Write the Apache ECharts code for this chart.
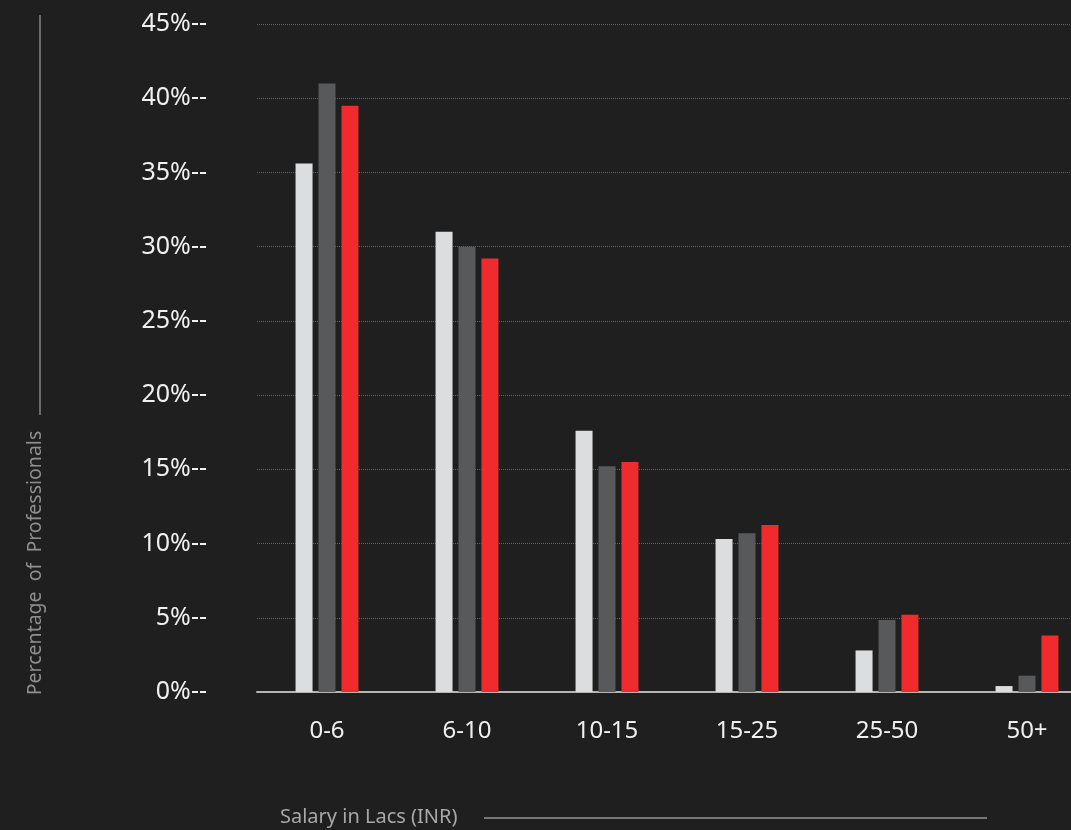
<!DOCTYPE html>
<html>
<head>
<meta charset="utf-8">
<script src="https://cdn.jsdelivr.net/npm/echarts@6/dist/echarts.min.js"></script>
<style>
  html, body { margin: 0; padding: 0; background: #1f1f1f; overflow: hidden; }
  #main { width: 1100px; height: 830px; }
</style>
</head>
<body>
<div id="main"></div>
<script>
// salary bands (lacs INR)
const categories = ['0-6', '6-10', '10-15', '15-25', '25-50', '50+']
// percentage of professionals, three groups
const seriesLight = [35.6, 31.0, 17.6, 10.3, 2.8, 0.4]
const seriesDark = [41.0, 30.0, 15.2, 10.7, 4.85, 1.1]
const seriesRed = [39.5, 29.2, 15.5, 11.25, 5.2, 3.8]
const yTicks = [0, 45, 5] // min, max, step

const chart = echarts.init(document.getElementById('main'))

function barSeries(data, color) {
	return {
		type: 'bar',
		data: data,
		barWidth: 17,
		barGap: '35%',
		itemStyle: { color: color },
		silent: true
	}
}

let option = {
	backgroundColor: '#1f1f1f',
	animation: false,
	grid: { left: 257, right: 3, top: 24, bottom: 138 },
	xAxis: {
		type: 'category',
		data: categories,
		axisLine: { lineStyle: { color: '#b4b4b4', width: 2 } },
		axisTick: { show: false },
		axisLabel: {
			color: '#f0f0f0',
			fontFamily: 'Noto Sans',
			fontSize: 24,
			margin: 27
		}
	},
	yAxis: {
		type: 'value',
		min: yTicks[0],
		max: yTicks[1],
		interval: yTicks[2],
		axisLine: { show: false },
		axisTick: { show: false },
		axisLabel: {
			color: '#f0f0f0',
			fontFamily: 'Noto Sans',
			fontSize: 25,
			margin: 50,
			formatter: '{value}%--'
		},
		splitLine: { lineStyle: { color: '#626262', type: 'dotted', width: 1 } }
	},
	series: [
		barSeries(seriesLight, '#dcdddf'),
		barSeries(seriesDark, '#58595b'),
		barSeries(seriesRed, '#ef2b2e')
	],
	graphic: [
		{
			type: 'line',
			shape: { x1: 40, y1: 15, x2: 40, y2: 415 },
			style: { stroke: '#6a6a6a', lineWidth: 2 }
		},
		{
			type: 'text',
			x: 35,
			y: 563,
			rotation: Math.PI / 2,
			style: {
				text: 'Percentage  of  Professionals',
				fill: '#8f8f8f',
				font: '19.5px "Noto Sans"',
				textAlign: 'center',
				textVerticalAlign: 'middle'
			}
		},
		{
			type: 'text',
			x: 280,
			y: 817,
			style: {
				text: 'Salary in Lacs (INR)',
				fill: '#a8a8a8',
				font: '20px "Noto Sans"',
				textAlign: 'left',
				textVerticalAlign: 'middle'
			}
		},
		{
			type: 'line',
			shape: { x1: 484, y1: 818, x2: 987, y2: 818 },
			style: { stroke: '#777777', lineWidth: 2 }
		}
	]
}

chart.setOption(option)
</script>
</body>
</html>
